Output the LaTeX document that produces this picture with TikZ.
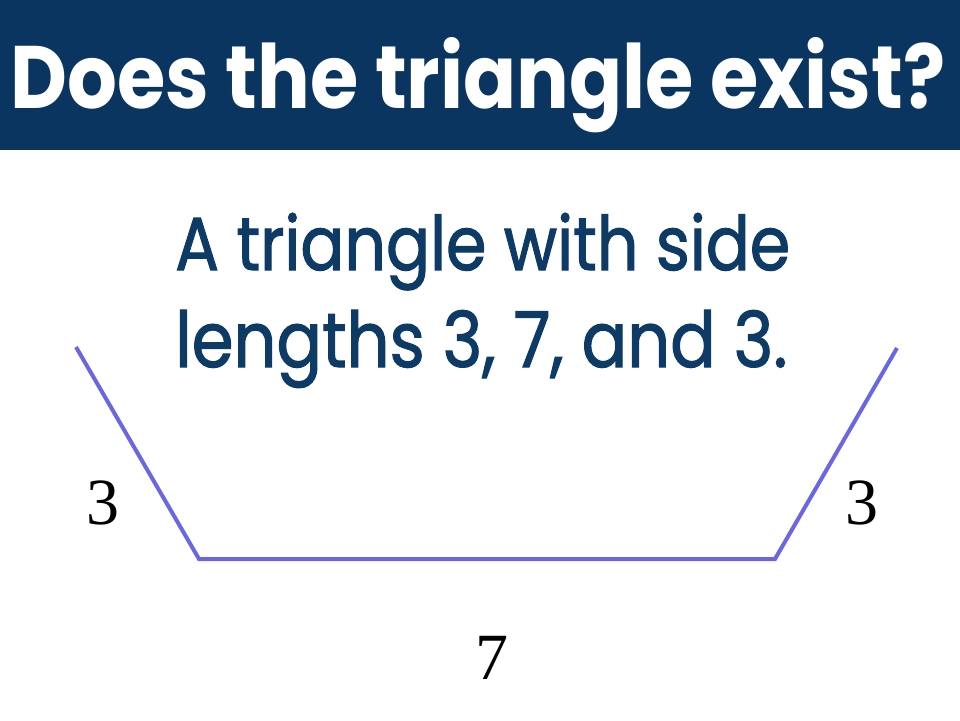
\documentclass[tikz,border=0pt]{standalone}
\usepackage{fontspec}
\setmainfont{Liberation Serif}
\newfontfamily\comicfont{Poppins}
\newfontfamily\comicbody[FakeBold=1.6]{Poppins}
\definecolor{banner}{HTML}{0A3560}
\definecolor{bodytext}{HTML}{0D3B66}
\definecolor{sideline}{HTML}{6A66E4}
\begin{document}
\begin{tikzpicture}[x=1pt,y=-1pt,
  titletext/.style={anchor=base west,inner sep=0pt,text=white,font=\comicfont\bfseries},
  bodyline/.style={anchor=base west,inner sep=0pt,text=bodytext,font=\comicbody},
  lenlabel/.style={inner sep=0pt,font=\fontsize{66}{66}\selectfont},
  seg/.style={draw=sideline,line width=4pt,line join=miter}]
\useasboundingbox[fill=white] (0,0) rectangle (960,720);
\fill[banner] (0,0) rectangle (960,150);
\node[titletext] (title) at (10,108) {\resizebox{935pt}{71pt}{Does the triangle exist?}};
\node[bodyline] (line1) at (175,270) {\resizebox{615pt}{57pt}{A triangle with side}};
\node[bodyline] (line2) at (175,367) {\resizebox{612pt}{57pt}{lengths 3, 7, and 3.}};
\coordinate (lt) at (76,347);
\coordinate (lb) at (199,559);
\coordinate (rb) at (775,559);
\coordinate (rt) at (897,348);
\draw[seg] (lt) -- (lb) -- (rb) -- (rt);
\node[lenlabel] (la) at (103,503) {3};
\node[lenlabel] (ra) at (862,503) {3};
\node[lenlabel] (ba) at (492,658) {7};
\end{tikzpicture}
\end{document}
